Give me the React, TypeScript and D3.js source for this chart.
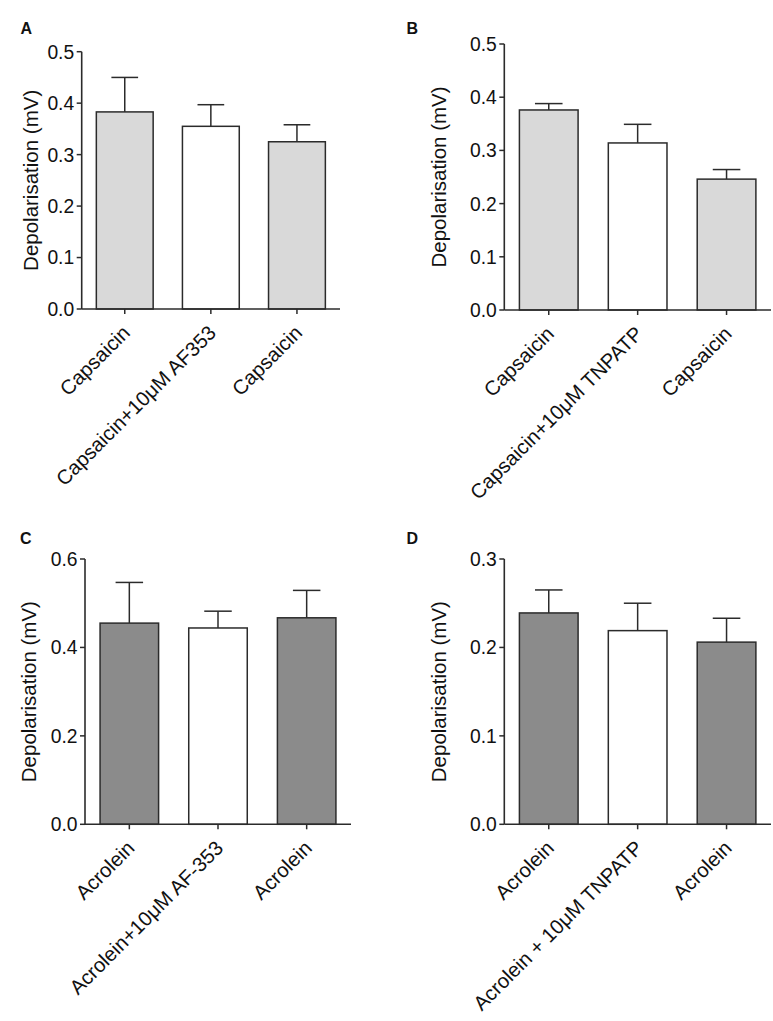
import React from "react";
import * as d3 from "d3";

// ---------- data ----------
const panelLetters = ["A", "B", "C", "D"];

const categoriesA = ["Capsaicin", "Capsaicin+10\u03BCM AF353", "Capsaicin"];
const meansA = [0.383, 0.355, 0.325];
const semA = [0.067, 0.042, 0.033];

const categoriesB = ["Capsaicin", "Capsaicin+10\u03BCM TNPATP", "Capsaicin"];
const meansB = [0.376, 0.314, 0.246];
const semB = [0.012, 0.035, 0.018];

const categoriesC = ["Acrolein", "Acrolein+10\u03BCM AF-353", "Acrolein"];
const meansC = [0.455, 0.444, 0.467];
const semC = [0.092, 0.038, 0.062];

const categoriesD = ["Acrolein", "Acrolein + 10\u03BCM TNPATP", "Acrolein"];
const meansD = [0.239, 0.219, 0.206];
const semD = [0.026, 0.031, 0.027];

const yMaxes = [0.5, 0.5, 0.6, 0.3];
const yTicksA = [0, 0.1, 0.2, 0.3, 0.4, 0.5];
const yTicksB = [0, 0.1, 0.2, 0.3, 0.4, 0.5];
const yTicksC = [0, 0.2, 0.4, 0.6];
const yTicksD = [0, 0.1, 0.2, 0.3];

const yAxisTitle = "Depolarisation (mV)";

// ---------- styles / layout ----------
const LIGHT = "#d9d9d9";
const DARK = "#8b8b8b";
const WHITE = "#ffffff";
const INK = "#2b2b2b";
const FONT = "'Liberation Sans', Arial, Helvetica, sans-serif";

const fillsLight = [LIGHT, WHITE, LIGHT];
const fillsDark = [DARK, WHITE, DARK];

const layouts = [
  { x0: 81.7, x1: 340, yTop: 51.7, yBot: 309, letterX: 20.5, letterY: 33.5, titleOff: 44 },
  { x0: 504.3, x1: 771, yTop: 44, yBot: 310, letterX: 406.5, letterY: 33.5, titleOff: 58.6 },
  { x0: 85, x1: 351, yTop: 559, yBot: 824.3, letterX: 20, letterY: 544, titleOff: 49.3 },
  { x0: 504.3, x1: 771, yTop: 559, yBot: 824.3, letterX: 406.5, letterY: 544, titleOff: 58.6 },
];

const panels = [
  { cats: categoriesA, means: meansA, sem: semA, ticks: yTicksA, fills: fillsLight },
  { cats: categoriesB, means: meansB, sem: semB, ticks: yTicksB, fills: fillsLight },
  { cats: categoriesC, means: meansC, sem: semC, ticks: yTicksC, fills: fillsDark },
  { cats: categoriesD, means: meansD, sem: semD, ticks: yTicksD, fills: fillsDark },
];

function Panel({ idx }: { idx: number }) {
  const p = panels[idx];
  const L = layouts[idx];
  const keys = p.cats.map((_, i) => String(i));
  const x = d3
    .scaleBand<string>()
    .domain(keys)
    .range([L.x0, L.x1])
    .paddingInner(0.34)
    .paddingOuter(0.17);
  const y = d3.scaleLinear().domain([0, yMaxes[idx]]).range([L.yBot, L.yTop]);
  const bw = x.bandwidth();
  const capW = bw * 0.47;
  const fmt = d3.format(".1f");

  return (
    <g>
      <text
        x={L.letterX}
        y={L.letterY}
        fontFamily={FONT}
        fontWeight="bold"
        fontSize={16}
        fill="#111"
      >
        {panelLetters[idx]}
      </text>

      {/* bars */}
      {keys.map((k, i) => {
        const bx = x(k) as number;
        const cx = bx + bw / 2;
        const top = y(p.means[i]);
        const errTop = y(p.means[i] + p.sem[i]);
        return (
          <g key={k}>
            <line x1={cx} x2={cx} y1={top} y2={errTop} stroke={INK} strokeWidth={1.5} />
            <line
              x1={cx - capW / 2}
              x2={cx + capW / 2}
              y1={errTop}
              y2={errTop}
              stroke={INK}
              strokeWidth={1.5}
            />
            <rect
              x={bx}
              y={top}
              width={bw}
              height={L.yBot - top}
              fill={p.fills[i]}
              stroke={INK}
              strokeWidth={1.5}
            />
          </g>
        );
      })}

      {/* y axis */}
      <line x1={L.x0} x2={L.x0} y1={L.yBot} y2={L.yTop} stroke={INK} strokeWidth={1.6} />
      {p.ticks.map((t) => (
        <g key={t}>
          <line x1={L.x0 - 5} x2={L.x0} y1={y(t)} y2={y(t)} stroke={INK} strokeWidth={1.5} />
          <text
            x={L.x0 - 7.5}
            y={y(t)}
            dy="0.36em"
            textAnchor="end"
            fontFamily={FONT}
            fontSize={19.3}
            fill="#111"
          >
            {fmt(t)}
          </text>
        </g>
      ))}
      <text
        transform={`translate(${L.x0 - L.titleOff},${(L.yTop + L.yBot) / 2}) rotate(-90)`}
        textAnchor="middle"
        fontFamily={FONT}
        fontSize={20.5}
        fill="#111"
      >
        {yAxisTitle}
      </text>

      {/* x axis */}
      <line x1={L.x0} x2={L.x1} y1={L.yBot} y2={L.yBot} stroke={INK} strokeWidth={1.6} />
      {keys.map((k, i) => {
        const cx = (x(k) as number) + bw / 2;
        return (
          <g key={"t" + k}>
            <line x1={cx} x2={cx} y1={L.yBot} y2={L.yBot + 5} stroke={INK} strokeWidth={1.5} />
            <text
              transform={`translate(${cx + 6.5},${L.yBot + 25}) rotate(-45)`}
              textAnchor="end"
              fontFamily={FONT}
              fontSize={20.3}
              fill="#111"
            >
              {p.cats[i]}
            </text>
          </g>
        );
      })}
    </g>
  );
}

export default function App() {
  return (
    <svg
      width={773}
      height={1021}
      style={{ position: "absolute", left: 0, top: 0, background: "#fff" }}
    >
      <rect x={0} y={0} width={773} height={1021} fill="#fff" />
      {[0, 1, 2, 3].map((i) => (
        <Panel key={i} idx={i} />
      ))}
    </svg>
  );
}
